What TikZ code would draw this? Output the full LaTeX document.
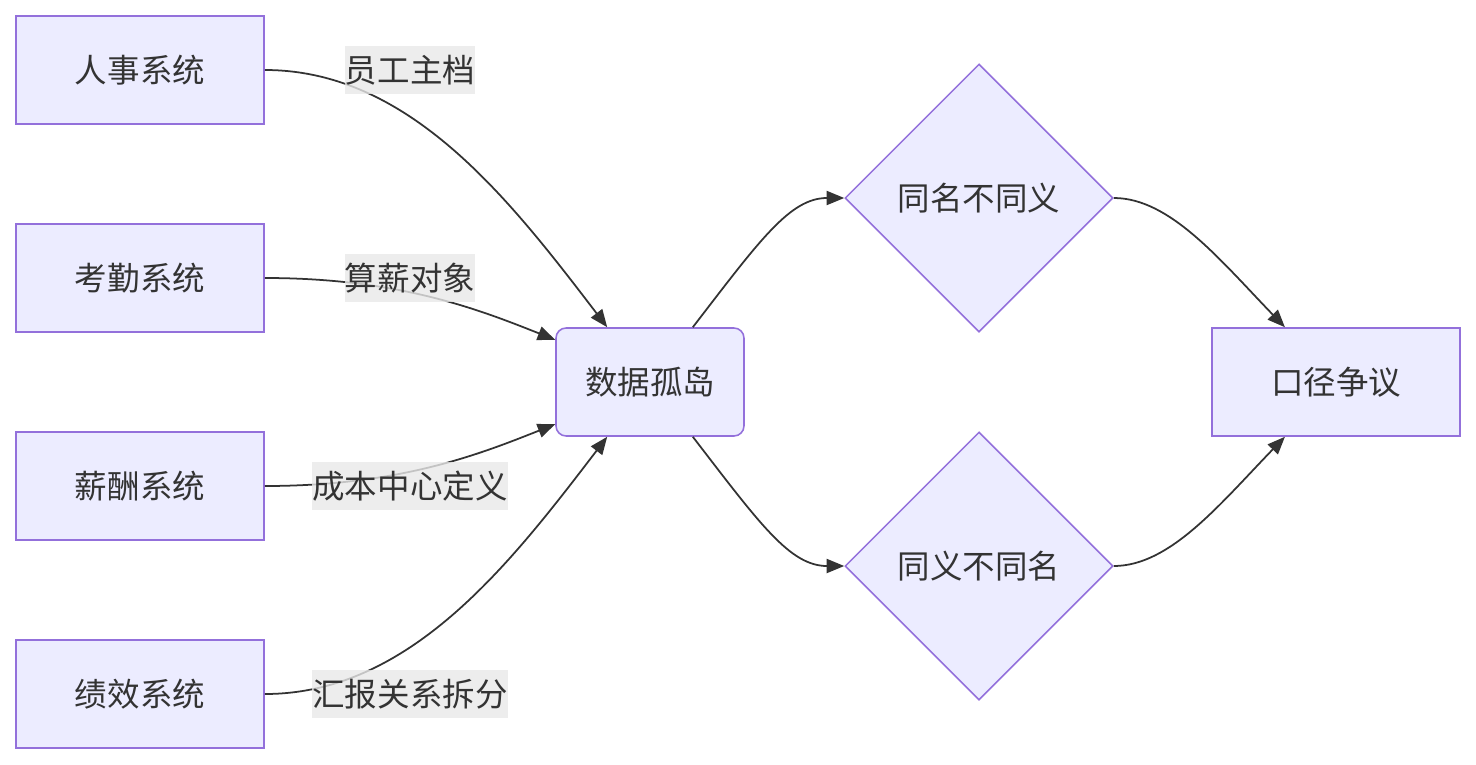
\documentclass[tikz,border=0pt]{standalone}
\usepackage{fontspec}
\setmainfont{Noto Sans CJK SC}
\usetikzlibrary{arrows.meta, shapes.geometric}
\definecolor{nodefill}{RGB}{236,236,255}
\definecolor{nodeline}{RGB}{147,112,219}
\definecolor{edgeline}{RGB}{51,51,51}
\definecolor{labelbg}{RGB}{232,232,232}
\newcommand{\diagfont}{\fontsize{18.5}{22}\selectfont}

\begin{document}
\begin{tikzpicture}[x=0.02cm, y=-0.02cm,
  sysbox/.style={draw=nodeline, fill=nodefill, line width=0.9pt, minimum width=4.96cm, minimum height=2.16cm, text=edgeline, font=\diagfont},
  silobox/.style={sysbox, rounded corners=0.2cm, minimum width=3.76cm},
  choice/.style={diamond, draw=nodeline, fill=nodefill, line width=0.9pt, minimum width=5.36cm, minimum height=5.36cm, inner sep=0pt, text=edgeline, font=\diagfont},
  flow/.style={draw=edgeline, line width=1pt, -{Triangle[length=10pt, width=8pt]}},
  tag/.style={fill=labelbg, fill opacity=0.8, text opacity=1, text=edgeline, inner xsep=0pt, minimum height=0.96cm, font=\diagfont}]
  \useasboundingbox (0,0) rectangle (1476,764);

  % source systems
  \node[sysbox] (hr) at (140,70) {人事系统};
  \node[sysbox] (att) at (140,278) {考勤系统};
  \node[sysbox] (pay) at (140,486) {薪酬系统};
  \node[sysbox] (perf) at (140,694) {绩效系统};

  \node[silobox] (silo) at (650,382) {数据孤岛};
  \node[choice] (same) at (979,198) {同名不同义};
  \node[choice] (syn) at (979,566) {同义不同名};
  \node[sysbox] (dispute) at (1336,382) {口径争议};

  % edges
  \draw[flow] (hr.east) .. controls (410,70) and (510,200) .. (silo.128);
  \draw[flow] (att.east) .. controls (400,278) and (480,310) .. (silo.156);
  \draw[flow] (pay.east) .. controls (400,486) and (480,454) .. (silo.204);
  \draw[flow] (perf.east) .. controls (410,694) and (510,564) .. (silo.232);
  \draw[flow] (silo.52) .. controls (760,240) and (790,198) .. (same.west);
  \draw[flow] (silo.308) .. controls (760,524) and (790,566) .. (syn.west);
  \draw[flow] (same.east) .. controls (1170,198) and (1220,260) .. (dispute.133);
  \draw[flow] (syn.east) .. controls (1170,566) and (1220,504) .. (dispute.227);

  % edge labels
  \node[tag] (l1) at (410,70) {员工主档};
  \node[tag] (l2) at (410,278) {算薪对象};
  \node[tag] (l3) at (410,486) {成本中心定义};
  \node[tag] (l4) at (410,694) {汇报关系拆分};
\end{tikzpicture}
\end{document}
